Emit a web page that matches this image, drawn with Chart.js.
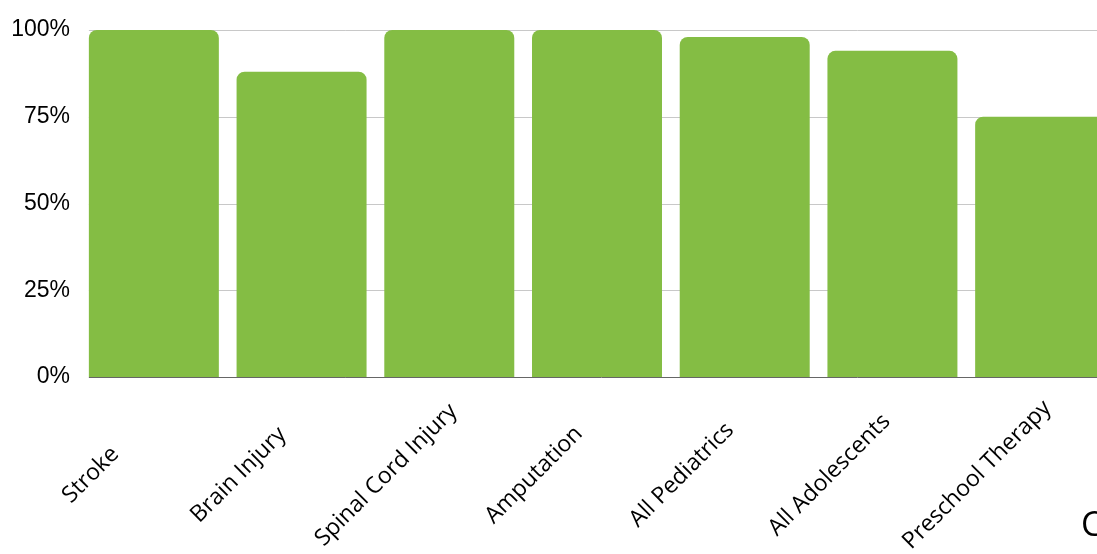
<!DOCTYPE html>
<html>
<head>
<meta charset="utf-8">
<script src="https://cdn.jsdelivr.net/npm/chart.js@4"></script>
<style>
  html, body { margin: 0; padding: 0; background: #fff; overflow: hidden; }
  #wrap { position: relative; width: 1125px; height: 554px; }
  #tail { position: absolute; left: 1081px; top: 500px; font: 34px "Open Sans", sans-serif; color: #000; }
</style>
</head>
<body>
<div id="wrap">
  <canvas id="barChart" width="1125" height="554"></canvas>
  <div id="tail">C</div>
</div>
<script>
const categories = ['Stroke', 'Brain Injury', 'Spinal Cord Injury', 'Amputation', 'All Pediatrics', 'All Adolescents', 'Preschool Therapy'];
const values = [100, 88, 100, 100, 98, 94, 75];
const yTicks = [0, 25, 50, 75, 100];

// grid lines start at the first bar's left edge, not at the plot edge
const gridFromBars = {
  id: 'gridFromBars',
  beforeDatasetsDraw(chart) {
    const ctx = chart.ctx;
    const ys = chart.scales.y;
    const left = chart.getDatasetMeta(0).data[0].x - chart.getDatasetMeta(0).data[0].width / 2;
    const right = chart.chartArea.right;
    ctx.save();
    ctx.lineWidth = 1;
    yTicks.forEach(v => {
      const y = Math.round(ys.getPixelForValue(v)) + 0.5;
      ctx.strokeStyle = v === 0 ? '#666' : '#c8c8c8';
      ctx.beginPath();
      ctx.moveTo(left, y);
      ctx.lineTo(right, y);
      ctx.stroke();
    });
    ctx.restore();
  }
};

// draws the rotated category labels, centred under each bar (shifted left like the original)
const slantLabels = {
  id: 'slantLabels',
  afterDraw(chart) {
    const ctx = chart.ctx;
    const xs = chart.scales.x;
    ctx.save();
    ctx.font = '23px "Open Sans", sans-serif';
    ctx.fillStyle = '#000';
    ctx.textAlign = 'center';
    ctx.textBaseline = 'middle';
    categories.forEach((c, i) => {
      const x = xs.getPixelForValue(i) - 63;
      ctx.save();
      ctx.translate(x, 475);
      ctx.rotate(-Math.PI / 4);
      ctx.fillText(c, 0, 0);
      ctx.restore();
    });
    ctx.restore();
  }
};

const ctxBar = document.getElementById('barChart').getContext('2d');
const barChart = new Chart(ctxBar, {
  type: 'bar',
  data: {
    labels: categories,
    datasets: [{
      data: values,
      backgroundColor: '#84bd44',
      borderRadius: { topLeft: 8, topRight: 8 },
      borderSkipped: 'bottom',
      barPercentage: 0.88,
      categoryPercentage: 1
    }]
  },
  options: {
    responsive: false,
    animation: false,
    layout: { padding: { top: 30, right: 11, left: 0, bottom: 0 } },
    plugins: { legend: { display: false }, tooltip: { enabled: false } },
    scales: {
      x: {
        grid: { display: false },
        border: { display: false },
        ticks: { display: false },
        afterFit: (scale) => { scale.height = 177; }
      },
      y: {
        min: 0,
        max: 100,
        afterBuildTicks: (scale) => { scale.ticks = yTicks.map(v => ({ value: v })); },
        afterFit: (scale) => { scale.width = 80; },
        grid: { display: false },
        border: { display: false },
        ticks: {
          padding: 2,
          color: '#000',
          font: { family: 'Liberation Sans', size: 23 },
          callback: (v) => v + '%'
        }
      }
    }
  },
  plugins: [gridFromBars, slantLabels]
});
</script>
</body>
</html>
